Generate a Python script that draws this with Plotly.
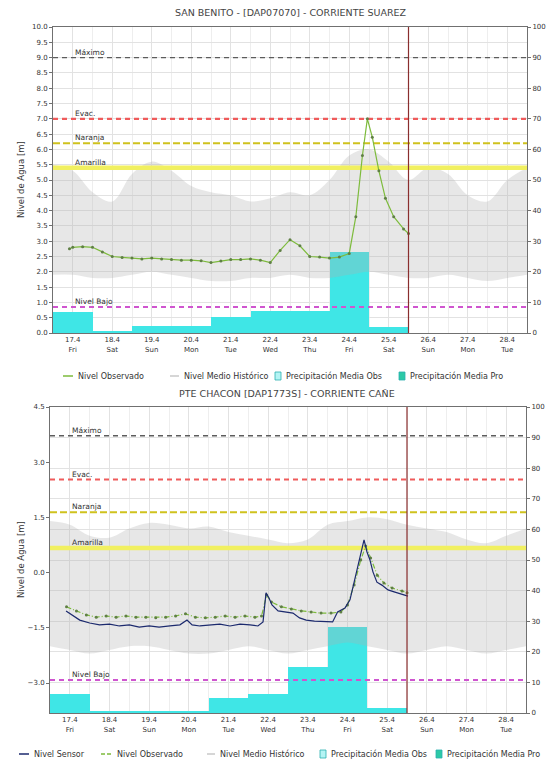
import pandas as pd
import plotly.graph_objects as go

W, H = 551, 761
FONT = "DejaVu Sans"

# ---------------- shared time data ----------------
DAY_DATES = ["2020-04-17", "2020-04-18", "2020-04-19", "2020-04-20", "2020-04-21", "2020-04-22",
             "2020-04-23", "2020-04-24", "2020-04-25", "2020-04-26", "2020-04-27", "2020-04-28"]
DAY_TICKS = ["17.4", "18.4", "19.4", "20.4", "21.4", "22.4", "23.4", "24.4", "25.4", "26.4", "27.4", "28.4"]
DAY_NAMES = ["Fri", "Sat", "Sun", "Mon", "Tue", "Wed", "Thu", "Fri", "Sat", "Sun", "Mon", "Tue"]
NOW = "2020-04-26 00:00"

THRESH_NAMES = ["Máximo", "Evac.", "Naranja", "Amarilla", "Nivel Bajo"]

# ---------------- top station ----------------
TOP_TITLE = "SAN BENITO - [DAP07070] - CORRIENTE SUAREZ"
TOP_OBS_HOURS = [10, 12, 18, 24, 30, 36, 42, 48, 54, 60, 66, 72, 78, 84, 90, 96, 102, 108, 114,
                 120, 126, 132, 138, 144, 150, 156, 162, 168, 174, 180, 184, 188, 191, 194, 198,
                 202, 207, 213, 216]
TOP_OBS_LEVEL = [2.75, 2.8, 2.82, 2.8, 2.65, 2.5, 2.47, 2.45, 2.42, 2.45, 2.42, 2.4, 2.38, 2.38,
                 2.36, 2.3, 2.35, 2.4, 2.4, 2.42, 2.38, 2.3, 2.7, 3.05, 2.85, 2.5, 2.48, 2.45,
                 2.48, 2.6, 3.8, 5.8, 7.0, 6.4, 5.3, 4.4, 3.8, 3.4, 3.25]
HIST_HOURS = [0, 12, 24, 36, 48, 60, 72, 84, 96, 108, 120, 132, 144, 156, 168, 180, 192, 204,
              216, 228, 240, 252, 264, 276, 288]
TOP_HIST_UPPER = [5.5, 5.3, 4.6, 4.3, 5.2, 5.6, 5.3, 4.8, 4.6, 4.5, 4.3, 4.4, 4.6, 4.5, 5.0,
                  5.8, 6.0, 5.6, 5.0, 5.4, 5.2, 4.5, 4.3, 5.0, 5.4]
TOP_HIST_LOWER = [1.9, 1.9, 1.8, 1.8, 1.9, 2.0, 1.9, 1.8, 1.7, 1.7, 1.8, 1.8, 1.9, 1.8, 1.8,
                  1.9, 2.0, 1.9, 1.8, 1.8, 1.9, 1.8, 1.7, 1.8, 1.9]
TOP_PREC_OBS = [7.0, 0.5, 2.4, 2.2, 5.2, 7.2, 7.3, 26.6, 2.0]
TOP_PREC_PRO = [0.0, 0.0, 0.0]
TOP_THRESH = [9.0, 7.0, 6.2, 5.4, 0.85]
TOP_LEVEL_RANGE = [0.0, 10.0]

# ---------------- bottom station ----------------
BOT_TITLE = "PTE CHACON [DAP1773S] - CORRIENTE CAÑE"
BOT_SENSOR_HOURS = [9.7, 13.3, 18, 24, 30, 36, 42, 48, 54, 60, 66, 72.6, 78.6, 82.9, 86, 90.7,
                    96.8, 102.8, 108.9, 115, 121, 125.8, 128.9, 130.7, 132.5, 134.3, 138, 142,
                    147, 151, 155, 160, 166, 171, 174, 178.5, 181.5, 184.5, 187.5, 190, 191.8,
                    193.6, 195.4, 197.8, 200.8, 204.5, 208.7, 213, 216.6]
BOT_SENSOR_LEVEL = [-1.04, -1.15, -1.29, -1.37, -1.42, -1.40, -1.45, -1.42, -1.48, -1.45, -1.48,
                    -1.45, -1.42, -1.29, -1.42, -1.45, -1.42, -1.40, -1.45, -1.40, -1.42, -1.45,
                    -1.34, -0.55, -0.69, -0.88, -1.04, -1.07, -1.10, -1.23, -1.29, -1.32, -1.34,
                    -1.34, -1.07, -0.96, -0.74, -0.15, 0.48, 0.89, 0.56, 0.34, 0.02, -0.26,
                    -0.34, -0.47, -0.53, -0.58, -0.64]
BOT_OBS_HOURS = [10, 16, 22, 28, 34, 40, 46, 52, 58, 64, 70, 76, 82, 88, 94, 100, 106, 112, 118,
                 124, 128, 131, 134, 140, 146, 152, 158, 164, 170, 176, 180, 184, 188, 191, 194,
                 198, 202, 207, 213, 216]
BOT_OBS_LEVEL = [-0.93, -1.04, -1.15, -1.21, -1.18, -1.21, -1.18, -1.21, -1.21, -1.23, -1.21,
                 -1.18, -1.12, -1.21, -1.23, -1.21, -1.18, -1.21, -1.18, -1.21, -1.18, -0.61,
                 -0.80, -0.93, -0.99, -1.04, -1.07, -1.10, -1.10, -1.07, -0.88, -0.34, 0.34,
                 0.72, 0.40, -0.07, -0.28, -0.42, -0.50, -0.55]
BOT_HIST_UPPER = [1.4, 1.3, 1.0, 0.95, 1.2, 1.35, 1.3, 1.2, 1.25, 1.1, 1.0, 0.9, 0.8, 0.9, 1.3,
                  1.4, 1.5, 1.45, 1.3, 1.2, 1.1, 0.9, 0.8, 1.0, 1.2]
BOT_HIST_LOWER = [-2.0, -2.1, -2.2, -2.1, -2.0, -2.0, -2.1, -2.2, -2.2, -2.1, -2.0, -2.1, -2.2,
                  -2.1, -2.0, -1.9, -2.0, -2.1, -2.2, -2.1, -2.0, -2.1, -2.2, -2.1, -2.0]
BOT_PREC_OBS = [6.2, 0.6, 0.6, 0.6, 4.9, 6.1, 15.0, 28.2, 1.6]
BOT_PREC_PRO = [0.0, 0.0, 0.0]
BOT_THRESH = [3.72, 2.53, 1.64, 0.67, -2.92]
BOT_LEVEL_TICKS = [4.5, 3.0, 1.5, 0.0, -1.5, -3.0]
BOT_LEVEL_RANGE = [-3.815, 4.5]

PREC_TICKS = [0, 10, 20, 30, 40, 50, 60, 70, 80, 90, 100]

# ---------------- styles ----------------
C_OBS = "#7dbb3c"
C_SENSOR = "#1c2a6e"
C_BAR = "#3fe6e6"
C_BAR_PRO = "#2cc9a6"
C_HIST = "rgba(175,175,175,0.30)"
C_NOW = "#8a2e2e"
THRESH_STYLE = {
    "Máximo": dict(color="#5c5c5c", width=1.4, dash="5px,4px"),
    "Evac.": dict(color="#ef5b5b", width=2.2, dash="5px,4px"),
    "Naranja": dict(color="#cfc21e", width=2.0, dash="7px,3px"),
    "Amarilla": dict(color="#f1f060", width=4.5, dash="solid"),
    "Nivel Bajo": dict(color="#cf55cf", width=2.0, dash="5px,4px"),
}

BASE = pd.Timestamp(DAY_DATES[0])
X_END = pd.Timestamp(DAY_DATES[-1]) + pd.Timedelta(days=1)


def to_time(hours):
    return [BASE + pd.Timedelta(hours=h) for h in hours]


noon = [pd.Timestamp(d) + pd.Timedelta(hours=12) for d in DAY_DATES]
tick_text = [f"{a}<br>{b}" for a, b in zip(DAY_TICKS, DAY_NAMES)]

fig = go.Figure()


def add_panel(xa, ya_bar, ya_lvl, prec_obs, prec_pro, hist_up, hist_lo, thresh, lines):
    n = len(prec_obs)
    fig.add_trace(go.Bar(x=noon[:n], y=prec_obs, width=86400000, marker=dict(color=C_BAR, line=dict(width=0)),
                         xaxis=xa, yaxis=ya_bar, showlegend=False, name="Precipitación Media Obs"))
    fig.add_trace(go.Bar(x=noon[n:], y=prec_pro, width=86400000, marker=dict(color=C_BAR_PRO, line=dict(width=0)),
                         xaxis=xa, yaxis=ya_bar, showlegend=False, name="Precipitación Media Pro"))
    ht = to_time(HIST_HOURS)
    fig.add_trace(go.Scatter(x=ht, y=hist_lo, mode="lines", line=dict(width=0, shape="spline"),
                             xaxis=xa, yaxis=ya_lvl, showlegend=False, hoverinfo="skip"))
    fig.add_trace(go.Scatter(x=ht, y=hist_up, mode="lines", line=dict(width=0, shape="spline"),
                             fill="tonexty", fillcolor=C_HIST,
                             xaxis=xa, yaxis=ya_lvl, showlegend=False, name="Nivel Medio Histórico"))
    for name, val in zip(THRESH_NAMES, thresh):
        fig.add_trace(go.Scatter(x=[BASE, X_END], y=[val, val], mode="lines", line=THRESH_STYLE[name],
                                 xaxis=xa, yaxis=ya_lvl, showlegend=False, name=name))
        fig.add_annotation(x=BASE + pd.Timedelta(hours=12), y=val, xref=xa, yref=ya_lvl,
                           text=name, showarrow=False, xanchor="left", yanchor="bottom", yshift=-1,
                           font=dict(family=FONT, size=7.5, color="#333"))
    for ln in lines:
        fig.add_trace(go.Scatter(xaxis=xa, yaxis=ya_lvl, showlegend=False, **ln))


add_panel("x", "y", "y2", TOP_PREC_OBS, TOP_PREC_PRO, TOP_HIST_UPPER, TOP_HIST_LOWER, TOP_THRESH, [
    dict(x=to_time(TOP_OBS_HOURS), y=TOP_OBS_LEVEL, mode="lines+markers", name="Nivel Observado",
         line=dict(color=C_OBS, width=1.2), marker=dict(size=3, color="#5f7f45")),
])
add_panel("x2", "y3", "y4", BOT_PREC_OBS, BOT_PREC_PRO, BOT_HIST_UPPER, BOT_HIST_LOWER, BOT_THRESH, [
    dict(x=to_time(BOT_OBS_HOURS), y=BOT_OBS_LEVEL, mode="lines+markers", name="Nivel Observado",
         line=dict(color=C_OBS, width=1.2, dash="5px,2px,1px,2px"), marker=dict(size=3, color="#5f7f45")),
    dict(x=to_time(BOT_SENSOR_HOURS), y=BOT_SENSOR_LEVEL, mode="lines", name="Nivel Sensor",
         line=dict(color=C_SENSOR, width=1.2)),
])

tickfont = dict(family=FONT, size=7, color="#333")
xcommon = dict(type="date", range=[BASE, X_END], tickmode="array", tickvals=noon, ticktext=tick_text,
               showgrid=True, gridcolor="#e2e2e2", gridwidth=1, showline=True, linecolor="#707070",
               mirror=True, ticks="", tickfont=tickfont, automargin=False,
               minor=dict(dtick=86400000, tick0=DAY_DATES[0], showgrid=True, gridcolor="#eeeeee"))
ybar = dict(side="right", range=[0, 100], tickvals=PREC_TICKS, showline=True, linecolor="#707070",
            ticks="outside", ticklen=3, tickcolor="#707070", tickfont=tickfont, automargin=False, zeroline=False)
ylvl = dict(side="left", showline=True, linecolor="#707070", ticks="outside", ticklen=3,
            tickcolor="#707070", tickfont=tickfont, automargin=False, zeroline=False, tickformat=".1f")

fig.update_layout(
    width=W, height=H, margin=dict(l=0, r=0, t=0, b=0),
    paper_bgcolor="white", plot_bgcolor="white", bargap=0, barmode="overlay",
    font=dict(family=FONT, size=7, color="#333"),
    xaxis=dict(domain=[53 / W, 527 / W], anchor="y", **xcommon),
    yaxis=dict(domain=[1 - 333 / H, 1 - 27 / H], anchor="x", showgrid=False, **ybar),
    yaxis2=dict(overlaying="y", anchor="x", range=TOP_LEVEL_RANGE, dtick=0.5,
                showgrid=True, gridcolor="#e2e2e2", **ylvl),
    xaxis2=dict(domain=[50 / W, 526 / W], anchor="y3", **xcommon),
    yaxis3=dict(domain=[1 - 713 / H, 1 - 407 / H], anchor="x2", showgrid=True, gridcolor="#e2e2e2", **ybar),
    yaxis4=dict(overlaying="y3", anchor="x2", range=BOT_LEVEL_RANGE, tickmode="array",
                tickvals=BOT_LEVEL_TICKS, showgrid=False, **ylvl),
)

# now line
fig.add_shape(type="line", xref="x", yref="y domain", x0=NOW, x1=NOW, y0=0, y1=1,
              line=dict(color=C_NOW, width=1.2))
fig.add_shape(type="line", xref="x2", yref="y3 domain", x0=NOW, x1=NOW, y0=0, y1=1,
              line=dict(color=C_NOW, width=1.2))


def px(x):
    return x / W


def py(y):
    return 1 - y / H


# titles and axis titles
fig.add_annotation(x=px(291), y=py(13), xref="paper", yref="paper", text=TOP_TITLE, showarrow=False,
                   xanchor="center", yanchor="middle", font=dict(family=FONT, size=9.5, color="#444"))
fig.add_annotation(x=px(287), y=py(393), xref="paper", yref="paper", text=BOT_TITLE, showarrow=False,
                   xanchor="center", yanchor="middle", font=dict(family=FONT, size=9.5, color="#444"))
for yc in (180, 560):
    fig.add_annotation(x=px(21), y=py(yc), xref="paper", yref="paper", text="Nivel de Agua [m]",
                       textangle=-90, showarrow=False, xanchor="center", yanchor="middle",
                       font=dict(family=FONT, size=8.5, color="#333"))


# manual legends
def legend_item(kind, color, x0, x1, xt, y, text, dash="solid"):
    if kind == "line":
        fig.add_shape(type="line", xref="paper", yref="paper", x0=px(x0), x1=px(x1), y0=py(y), y1=py(y),
                      line=dict(color=color, width=1.5, dash=dash))
    else:
        fig.add_shape(type="rect", xref="paper", yref="paper", x0=px(x0), x1=px(x1), y0=py(y - 4),
                      y1=py(y + 4), fillcolor=color, line=dict(color="#2bb0b0", width=0.8))
    fig.add_annotation(x=px(xt), y=py(y), xref="paper", yref="paper", text=text, showarrow=False,
                       xanchor="left", yanchor="middle", font=dict(family=FONT, size=8, color="#333"))


legend_item("line", C_OBS, 63, 73, 76, 376, "Nivel Observado")
legend_item("line", "#c9c9c9", 170, 179, 182, 376, "Nivel Medio Histórico")
legend_item("rect", "#b4f4f4", 275, 281, 284, 376, "Precipitación Media Obs")
legend_item("rect", C_BAR_PRO, 399, 405, 408, 376, "Precipitación Media Pro")

legend_item("line", C_SENSOR, 19, 29, 32, 754, "Nivel Sensor")
legend_item("line", C_OBS, 101, 112, 115, 754, "Nivel Observado", dash="4px,2px")
legend_item("line", "#c9c9c9", 207, 215, 218, 754, "Nivel Medio Histórico")
legend_item("rect", "#b4f4f4", 320, 326, 329, 754, "Precipitación Media Obs")
legend_item("rect", C_BAR_PRO, 436, 442, 445, 754, "Precipitación Media Pro")

fig.write_html("out.html", config={"displayModeBar": False},
               post_script="document.body.style.margin='0px';document.body.style.overflow='hidden';")
